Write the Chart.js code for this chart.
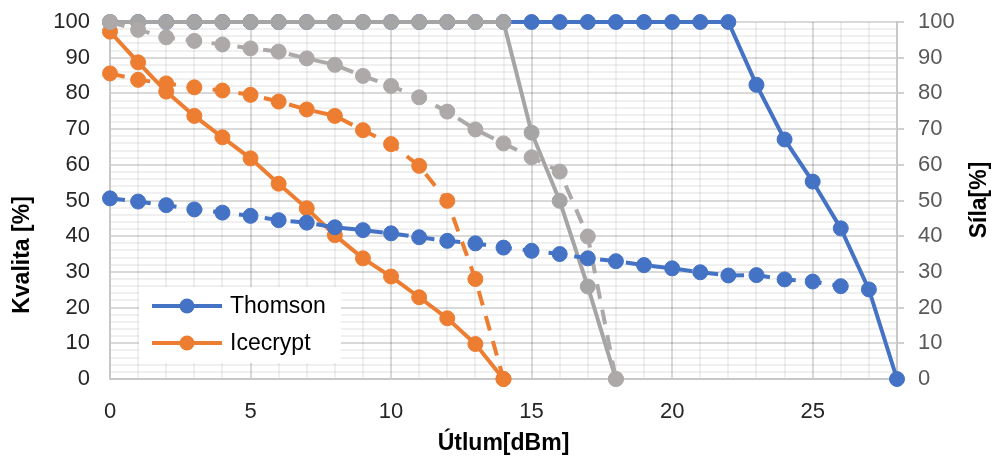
<!DOCTYPE html>
<html lang="sk">
<head>
  <meta charset="UTF-8">
  <title>Kvalita a sila signálu</title>
  <script src="https://cdn.jsdelivr.net/npm/chart.js"></script>
  <style>
    html, body { margin: 0; padding: 0; background: #ffffff; }
    #wrap { position: relative; width: 995px; height: 462px; }
  </style>
</head>
<body>
  <div id="wrap"><canvas id="chart" width="995" height="462"></canvas></div>
  <script>
    // útlum [dBm] - os x
    const utlum = [0, 1, 2, 3, 4, 5, 6, 7, 8, 9, 10, 11, 12, 13, 14, 15, 16, 17, 18, 19, 20, 21, 22, 23, 24, 25, 26, 27, 28];
    const xTicks = [0, 5, 10, 15, 20, 25];
    const yTicks = [0, 10, 20, 30, 40, 50, 60, 70, 80, 90, 100];

    // Kvalita [%] (plné čiary)
    const thomsonKvalita = [100, 100, 100, 100, 100, 100, 100, 100, 100, 100, 100, 100, 100, 100, 100, 100, 100, 100, 100, 100, 100, 100, 100, 82.4, 67.1, 55.3, 42.2, 25.1, 0];
    const icecryptKvalita = [97.3, 88.7, 80.5, 73.7, 67.7, 61.8, 54.7, 47.8, 40.3, 33.8, 28.7, 22.9, 17, 9.8, 0];
    const seria3Kvalita = [100, 100, 100, 100, 100, 100, 100, 100, 100, 100, 100, 100, 100, 100, 100, 69, 49.9, 25.9, 0];

    // Síla [%] (prerušované čiary)
    const thomsonSila = [50.6, 49.7, 48.7, 47.5, 46.6, 45.7, 44.5, 43.8, 42.5, 41.7, 40.8, 39.7, 38.7, 38, 36.8, 35.9, 35, 33.8, 33, 31.9, 31, 29.9, 29, 29.1, 27.9, 27.3, 26];
    const icecryptSila = [85.6, 83.8, 82.8, 81.7, 80.8, 79.6, 77.7, 75.5, 73.7, 69.7, 65.8, 59.7, 49.9, 28, 0];
    const seria3Sila = [100, 97.8, 95.7, 94.7, 93.7, 92.6, 91.7, 89.8, 88, 84.9, 82.1, 78.9, 74.9, 69.9, 66, 62.1, 58.1, 39.9, 0];

    const BLUE = '#4472C4';
    const ORANGE = '#ED7D31';
    const GRAY = '#A5A5A5';
    const GRAY2 = '#ADA9A9';
    const FONT = '"Liberation Sans", Arial, sans-serif';
    const GRID_MAJOR = 'rgba(0,0,0,0.15)';
    const GRID_MINOR = 'rgba(0,0,0,0.06)';

    function pts(values) {
      return values.map((v, i) => ({ x: utlum[i], y: v }));
    }

    function series(label, values, color, axis, dashed, order) {
      return {
        label: label,
        data: pts(values),
        yAxisID: axis,
        borderColor: color,
        backgroundColor: color,
        borderWidth: 4,
        borderDash: dashed ? [15, 11] : [],
        pointRadius: 7.5,
        pointBorderWidth: 1,
        pointBorderColor: color,
        pointBackgroundColor: color,
        tension: 0,
        clip: false,
        order: order
      };
    }

    // vlastná legenda a názvy osí y
    const extras = {
      id: 'extras',
      afterDatasetsDraw(chart) {
        const c = chart.ctx;
        c.save();
        c.fillStyle = '#ffffff';
        c.fillRect(139, 287, 202, 76);
        const items = [['Thomson', BLUE, 306], ['Icecrypt', ORANGE, 343]];
        items.forEach(([name, col, y]) => {
          c.strokeStyle = col;
          c.lineWidth = 4;
          c.beginPath();
          c.moveTo(152, y);
          c.lineTo(222, y);
          c.stroke();
          c.fillStyle = col;
          c.beginPath();
          c.arc(187, y, 7.5, 0, Math.PI * 2);
          c.fill();
          c.fillStyle = '#000000';
          c.font = '23px ' + FONT;
          c.textBaseline = 'middle';
          c.textAlign = 'left';
          c.fillText(name, 230, y + 1);
        });
        c.restore();
      },
      afterDraw(chart) {
        const c = chart.ctx;
        c.save();
        c.font = 'bold 23px ' + FONT;
        c.fillStyle = '#000000';
        c.textAlign = 'center';
        c.textBaseline = 'middle';
        c.translate(23, 255);
        c.rotate(-Math.PI / 2);
        c.fillText('Kvalita [%]', 0, 0);
        c.restore();
        c.save();
        c.font = 'bold 23px ' + FONT;
        c.fillStyle = '#000000';
        c.textAlign = 'center';
        c.textBaseline = 'middle';
        c.translate(980, 200);
        c.rotate(-Math.PI / 2);
        c.fillText('Síla[%]', 0, 0);
        c.restore();
      }
    };

    new Chart(document.getElementById('chart'), {
      type: 'line',
      data: {
        datasets: [
          series('Thomson', thomsonKvalita, BLUE, 'y', false, 6),
          series('Icecrypt', icecryptKvalita, ORANGE, 'y', false, 5),
          series('Séria 3', seria3Kvalita, GRAY, 'y', false, 4),
          series('Thomson síla', thomsonSila, BLUE, 'y2', true, 1),
          series('Icecrypt síla', icecryptSila, ORANGE, 'y2', true, 2),
          series('Séria 3 síla', seria3Sila, GRAY2, 'y2', true, 3)
        ]
      },
      options: {
        responsive: false,
        animation: false,
        layout: { padding: { top: 22, left: 0, right: 0, bottom: 0 } },
        plugins: {
          legend: { display: false },
          tooltip: { enabled: false }
        },
        scales: {
          x: {
            type: 'linear',
            min: 0,
            max: 28,
            afterFit(s) { s.height = 83; s.paddingLeft = 0; s.paddingRight = 0; },
            ticks: {
              stepSize: 1,
              autoSkip: false,
              maxRotation: 0,
              padding: 20,
              color: '#262626',
              font: { size: 22, family: FONT },
              callback: v => xTicks.includes(v) ? String(v) : ''
            },
            grid: {
              drawTicks: false,
              lineWidth: 2,
              color: ctx => (ctx.tick && ctx.tick.value % 5 === 0) ? GRID_MAJOR : GRID_MINOR
            },
            border: { color: '#c8c8c8', width: 2 },
            title: {
              display: true,
              text: 'Útlum[dBm]',
              color: '#000000',
              font: { size: 23, weight: 'bold', family: FONT },
              padding: { top: 0, bottom: 5 }
            }
          },
          y: {
            position: 'left',
            min: 0,
            max: 100,
            afterFit(s) { s.width = 110; s.paddingTop = 0; s.paddingBottom = 0; },
            ticks: {
              stepSize: 2,
              autoSkip: false,
              padding: 20,
              color: '#262626',
              font: { size: 22, family: FONT },
              callback: v => yTicks.includes(v) ? String(v) : ''
            },
            grid: {
              drawTicks: false,
              lineWidth: 2,
              color: ctx => (ctx.tick && ctx.tick.value % 10 === 0) ? GRID_MAJOR : GRID_MINOR
            },
            border: { color: '#c8c8c8', width: 2 }
          },
          y2: {
            position: 'right',
            min: 0,
            max: 100,
            afterFit(s) { s.width = 98; s.paddingTop = 0; s.paddingBottom = 0; },
            ticks: {
              stepSize: 10,
              padding: 14,
              color: '#595959',
              font: { size: 22, family: FONT }
            },
            grid: {
              drawOnChartArea: false,
              drawTicks: true,
              tickLength: 7,
              lineWidth: 2,
              tickColor: '#d0d0d0'
            },
            border: { color: '#c8c8c8', width: 2 }
          }
        }
      },
      plugins: [extras]
    });
  </script>
</body>
</html>
